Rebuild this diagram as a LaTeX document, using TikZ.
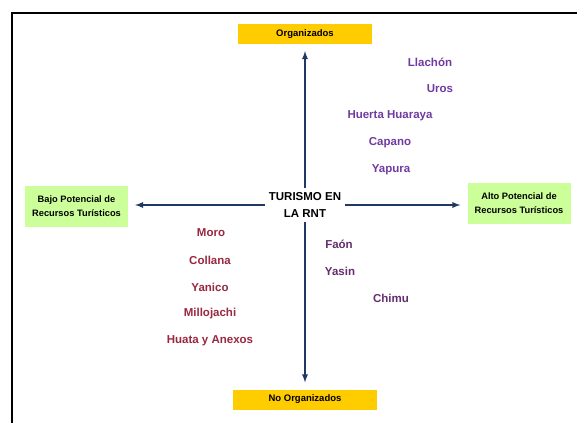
\documentclass[tikz,border=0pt]{standalone}
\usepackage{fontspec}
\setmainfont{Liberation Sans}
\usepackage{xcolor}
\usetikzlibrary{arrows,positioning,calc}
\definecolor{rntyellow}{RGB}{255,204,0}
\definecolor{rntgreen}{RGB}{204,255,153}
\definecolor{rntblue}{RGB}{31,56,100}
\definecolor{rntpurple}{RGB}{112,58,160}
\definecolor{rntred}{RGB}{153,40,64}
\definecolor{rntplum}{RGB}{100,45,110}

\begin{document}
\begin{tikzpicture}[x=1pt, y=-1pt,
    axisbox/.style={rectangle, fill=rntyellow, minimum height=20pt, inner sep=2pt, font=\fontsize{9.5}{11}\selectfont\bfseries},
    potbox/.style={rectangle, fill=rntgreen, minimum height=41pt, minimum width=103pt, inner sep=2pt, align=center, font=\fontsize{9.3}{13.5}\selectfont\bfseries},
    lugar/.style={font=\fontsize{11.5}{14}\selectfont\bfseries, inner sep=1pt},
    arrow/.style={line width=1.7pt, draw=rntblue, -latex, shorten >=7pt}]

    \useasboundingbox (0,0) rectangle (577,423);
    \fill[white] (0,0) rectangle (577,423);
    \draw[line width=2pt] (577,13) -- (12,13) -- (12,423);

    \node[align=center, inner sep=4pt, font=\fontsize{11.5}{17}\selectfont\bfseries] (rnt) at (305,205) {TURISMO EN\\LA RNT};
    \node[axisbox, minimum width=134pt] (org) at (305,34) {Organizados};
    \node[axisbox, minimum width=144pt] (noorg) at (305,399.5) {No Organizados};
    \node[potbox] (bajo) at (76.5,206) {Bajo Potencial de\\Recursos Turísticos};
    \node[potbox] (alto) at (519,203) {Alto Potencial de\\Recursos Turísticos};

    \draw[arrow] (rnt.north) -- (org);
    \draw[arrow] (rnt.south) -- (noorg);
    \draw[arrow] (rnt.west) -- (rnt.west -| bajo.east);
    \draw[arrow] (rnt.east) -- (rnt.east -| alto.west);

    % organizados, alto potencial
    \node[lugar, text=rntpurple] (llachon) at (430,62) {Llachón};
    \node[lugar, text=rntpurple] (uros) at (440,89) {Uros};
    \node[lugar, text=rntpurple] (huerta) at (390,116) {Huerta Huaraya};
    \node[lugar, text=rntpurple] (capano) at (390,143) {Capano};
    \node[lugar, text=rntpurple] (yapura) at (391,170) {Yapura};

    % no organizados, bajo potencial
    \node[lugar, text=rntred] (moro) at (211,233) {Moro};
    \node[lugar, text=rntred] (collana) at (210,260) {Collana};
    \node[lugar, text=rntred] (yanico) at (210,287) {Yanico};
    \node[lugar, text=rntred] (millojachi) at (210,314) {Millojachi};
    \node[lugar, text=rntred] (huata) at (210,341) {Huata y Anexos};

    % no organizados, alto potencial
    \node[lugar, text=rntplum] (faon) at (339,244) {Faón};
    \node[lugar, text=rntplum] (yasin) at (340,271) {Yasin};
    \node[lugar, text=rntplum] (chimu) at (391,298) {Chimu};
\end{tikzpicture}
\end{document}
